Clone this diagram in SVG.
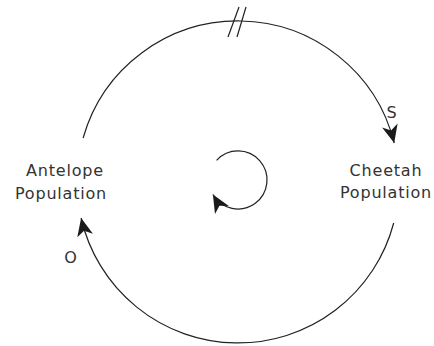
<svg xmlns="http://www.w3.org/2000/svg" width="434" height="346" viewBox="0 0 434 346">
<style>
  .lbl { font-family: "DejaVu Sans", "Liberation Sans", sans-serif; font-size: 16px; fill: #333; text-anchor: middle; letter-spacing: 0.8px; }
  .conn { fill: none; stroke: #222; stroke-width: 1.2; }
</style>
<defs>
  <marker id="arr" markerUnits="userSpaceOnUse" markerWidth="22" markerHeight="18" viewBox="-19 -9 21 18" refX="0" refY="0" orient="auto">
    <path d="M0,0 L-18,-8 L-13,0 L-18,8 Z" fill="#1a1a1a"/>
  </marker>
</defs>
<rect width="434" height="346" fill="#fff"/>
<g id="connectors">
  <path class="conn" d="M83.1,138 A161,161 0 0 1 394.2,143" marker-end="url(#arr)"/>
  <path class="conn" d="M393.7,223 A161,161 0 0 1 81.1,218" marker-end="url(#arr)"/>
  <line class="conn" x1="239" y1="7" x2="228" y2="37"/>
  <line class="conn" x1="246" y1="7" x2="237" y2="37"/>
  <text class="lbl" x="392" y="118">S</text>
  <text class="lbl" x="71" y="263">O</text>
</g>
<g id="loop">
  <path class="conn" d="M216.6,160.4 A29,29 0 1 1 212.9,194.5" marker-end="url(#arr)"/>
</g>
<g id="antelope">
  <text class="lbl" x="65" y="176">Antelope</text>
  <text class="lbl" x="61" y="199">Population</text>
</g>
<g id="cheetah">
  <text class="lbl" x="386" y="176">Cheetah</text>
  <text class="lbl" x="386" y="198">Population</text>
</g>
</svg>
